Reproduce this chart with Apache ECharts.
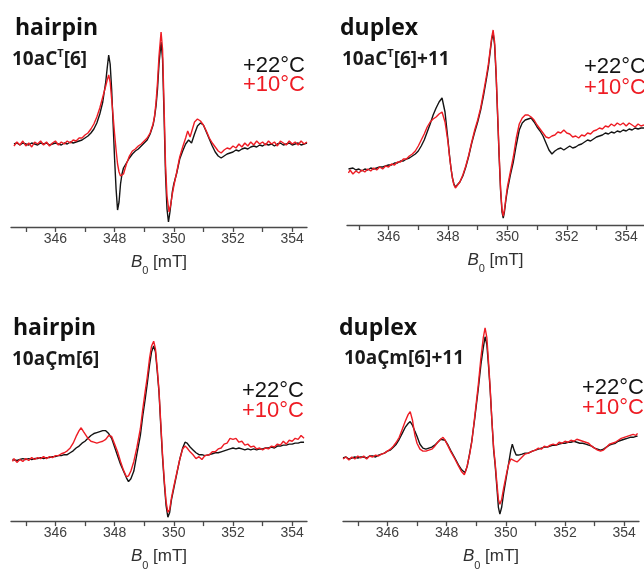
<!DOCTYPE html>
<html>
<head>
<meta charset="utf-8">
<script src="https://cdn.jsdelivr.net/npm/echarts@6/dist/echarts.min.js"></script>
<style>
  html, body { margin: 0; padding: 0; background: #fff; }
  #chart { width: 644px; height: 572px; }
</style>
</head>
<body>
<div id="chart"></div>
<script>
// EPR spectra, field B0 in mT, signal in arbitrary units (baseline = 0)

// hairpin 10aC^T[6]
const hpCT_22 = [[344.6,0],[344.7,1],[344.8,-1],[344.9,1],[345.0,0],[345.1,-1],[345.2,1],[345.3,0],[345.4,-1],[345.5,1],[345.6,0],[345.7,1],[345.8,-1],[345.9,0],[346.0,1],[346.1,0],[346.2,-1],[346.3,1],[346.4,0],[346.5,2],[346.6,1],[346.7,2],[346.8,3],[346.9,4],[347.0,6],[347.1,8],[347.2,11],[347.3,15],[347.4,21],[347.5,30],[347.6,42],[347.7,62],[347.75,76],[347.8,89],[347.85,80],[347.9,55],[347.95,20],[348.0,-15],[348.05,-45],[348.1,-66],[348.15,-58],[348.2,-40],[348.25,-30],[348.3,-24],[348.4,-19],[348.5,-14],[348.6,-10],[348.7,-7],[348.8,-5],[348.9,-2],[349.0,1],[349.1,4],[349.2,10],[349.3,19],[349.35,27],[349.4,38],[349.45,55],[349.5,80],[349.57,102],[349.62,85],[349.67,30],[349.72,-30],[349.77,-65],[349.82,-78],[349.87,-68],[349.95,-48],[350.0,-40],[350.1,-29],[350.2,-15],[350.3,-7],[350.4,0],[350.5,4],[350.55,2],[350.6,1],[350.7,10],[350.8,18],[350.9,21],[351.0,19],[351.1,12],[351.2,5],[351.3,-2],[351.4,-8],[351.5,-12],[351.6,-14],[351.7,-12],[351.8,-10],[351.9,-9],[352.0,-8],[352.1,-6],[352.2,-7],[352.3,-5],[352.4,-4],[352.5,-5],[352.6,-3],[352.7,-2],[352.8,-3],[352.9,-1],[353.0,-2],[353.1,0],[353.2,-1],[353.3,0],[353.4,-2],[353.5,0],[353.6,1],[353.7,-1],[353.8,0],[353.9,1],[354.0,-1],[354.1,0],[354.2,1],[354.3,-1],[354.4,0],[354.5,1]];
const hpCT_10 = [[344.6,-2],[344.7,2],[344.8,-1],[344.9,3],[345.0,-2],[345.1,1],[345.2,-3],[345.3,2],[345.4,0],[345.5,3],[345.6,-1],[345.7,2],[345.8,-2],[345.9,1],[346.0,3],[346.1,-1],[346.2,2],[346.3,0],[346.4,3],[346.5,1],[346.6,4],[346.7,3],[346.8,6],[346.9,6],[347.0,9],[347.1,11],[347.2,15],[347.3,20],[347.4,27],[347.5,36],[347.6,47],[347.7,58],[347.75,64],[347.8,69],[347.85,62],[347.9,45],[347.95,28],[348.0,10],[348.05,-6],[348.1,-20],[348.15,-28],[348.2,-32],[348.25,-34],[348.3,-30],[348.4,-20],[348.5,-12],[348.6,-7],[348.7,-5],[348.8,-2],[348.9,0],[349.0,3],[349.1,6],[349.2,11],[349.3,20],[349.35,28],[349.4,42],[349.45,62],[349.5,88],[349.57,112],[349.62,95],[349.67,40],[349.72,-20],[349.77,-52],[349.84,-68],[349.9,-60],[349.95,-50],[350.0,-42],[350.1,-28],[350.2,-13],[350.3,-3],[350.4,6],[350.47,13],[350.55,7],[350.6,12],[350.7,22],[350.8,25],[350.9,23],[351.0,19],[351.1,13],[351.2,6],[351.3,1],[351.4,-3],[351.5,-7],[351.6,-9],[351.7,-6],[351.8,-4],[351.9,-5],[352.0,-2],[352.1,-4],[352.2,0],[352.3,-3],[352.4,1],[352.5,-2],[352.6,2],[352.7,-1],[352.8,3],[352.9,0],[353.0,2],[353.1,-1],[353.2,3],[353.3,0],[353.4,2],[353.5,-2],[353.6,3],[353.7,1],[353.8,-1],[353.9,3],[354.0,0],[354.1,2],[354.2,-1],[354.3,3],[354.4,0],[354.5,2]];

// duplex 10aC^T[6]+11
const dxCT_22 = [[344.65,1],[344.7,0],[344.8,2],[344.9,0],[345.0,1],[345.1,-1],[345.2,1],[345.3,0],[345.4,2],[345.5,1],[345.6,2],[345.7,3],[345.8,3],[345.9,4],[346.0,5],[346.1,5],[346.2,7],[346.3,7],[346.4,9],[346.5,9],[346.6,11],[346.7,12],[346.8,14],[346.9,16],[347.0,19],[347.1,24],[347.2,30],[347.3,38],[347.4,46],[347.5,55],[347.6,62],[347.7,68],[347.8,72],[347.85,70],[347.9,58],[348.0,30],[348.05,15],[348.1,2],[348.15,-8],[348.2,-14],[348.25,-17],[348.3,-16],[348.4,-12],[348.5,-6],[348.6,3],[348.7,14],[348.8,27],[348.9,38],[349.0,48],[349.1,60],[349.2,75],[349.3,92],[349.36,103],[349.42,118],[349.47,130],[349.52,137],[349.57,125],[349.62,95],[349.67,55],[349.72,15],[349.77,-20],[349.82,-42],[349.86,-48],[349.9,-42],[349.95,-30],[350.0,-20],[350.1,-5],[350.2,8],[350.3,25],[350.4,40],[350.5,47],[350.6,50],[350.7,51],[350.8,52],[350.9,48],[351.0,43],[351.1,39],[351.2,34],[351.3,27],[351.4,20],[351.5,16],[351.6,19],[351.7,21],[351.8,22],[351.9,20],[352.0,22],[352.1,24],[352.2,22],[352.3,23],[352.4,25],[352.5,26],[352.6,28],[352.7,30],[352.8,29],[352.9,31],[353.0,33],[353.1,34],[353.2,35],[353.3,37],[353.4,36],[353.5,38],[353.6,37],[353.7,39],[353.8,38],[353.9,40],[354.0,39],[354.1,41],[354.2,40],[354.3,42],[354.4,41],[354.5,42],[354.6,42]];
const dxCT_10 = [[344.65,-3],[344.7,0],[344.8,-4],[344.9,-1],[345.0,-3],[345.1,0],[345.2,-2],[345.3,1],[345.4,-1],[345.5,2],[345.6,0],[345.7,3],[345.8,1],[345.9,4],[346.0,3],[346.1,6],[346.2,5],[346.3,8],[346.4,8],[346.5,11],[346.6,11],[346.7,14],[346.8,16],[346.9,19],[347.0,24],[347.1,30],[347.2,36],[347.3,43],[347.4,48],[347.5,51],[347.6,53],[347.7,56],[347.8,58],[347.85,56],[347.9,48],[348.0,28],[348.05,14],[348.1,2],[348.15,-8],[348.2,-15],[348.25,-18],[348.3,-17],[348.4,-12],[348.5,-5],[348.6,4],[348.7,15],[348.8,28],[348.9,40],[349.0,50],[349.1,62],[349.2,78],[349.3,95],[349.36,106],[349.42,120],[349.47,132],[349.52,140],[349.57,128],[349.62,98],[349.67,58],[349.72,18],[349.77,-18],[349.82,-40],[349.86,-46],[349.9,-40],[349.95,-28],[350.0,-17],[350.1,-2],[350.2,13],[350.3,32],[350.4,46],[350.5,52],[350.6,55],[350.7,55],[350.8,53],[350.9,50],[351.0,45],[351.1,41],[351.2,37],[351.3,33],[351.4,32],[351.5,34],[351.6,35],[351.7,38],[351.8,37],[351.9,40],[352.0,37],[352.1,36],[352.2,33],[352.3,34],[352.4,32],[352.5,35],[352.6,34],[352.7,37],[352.8,36],[352.9,39],[353.0,40],[353.1,42],[353.2,41],[353.3,44],[353.4,43],[353.5,46],[353.6,44],[353.7,47],[353.8,45],[353.9,47],[354.0,44],[354.1,47],[354.2,45],[354.3,43],[354.4,46],[354.5,44],[354.6,45]];

// hairpin 10aÇm[6]
const hpCm_22 = [[344.55,0],[344.6,1],[344.7,-1],[344.8,0],[344.9,1],[345.0,0],[345.1,1],[345.2,0],[345.3,1],[345.4,1],[345.5,2],[345.6,1],[345.7,2],[345.8,2],[345.9,3],[346.0,3],[346.1,4],[346.2,4],[346.3,5],[346.4,5],[346.5,7],[346.6,9],[346.7,12],[346.8,14],[346.9,17],[347.0,19],[347.1,22],[347.2,25],[347.3,27],[347.4,28],[347.5,29],[347.6,30],[347.7,30],[347.8,27],[347.9,22],[348.0,13],[348.1,4],[348.2,-5],[348.3,-12],[348.4,-19],[348.47,-23],[348.55,-20],[348.65,-12],[348.75,5],[348.87,25],[348.95,45],[349.03,62],[349.1,78],[349.18,98],[349.25,112],[349.32,118],[349.38,112],[349.44,92],[349.5,70],[349.56,35],[349.62,2],[349.68,-25],[349.74,-48],[349.8,-60],[349.86,-55],[349.92,-42],[350.0,-30],[350.1,-15],[350.2,0],[350.3,12],[350.38,18],[350.45,17],[350.55,13],[350.65,10],[350.75,7],[350.85,5],[350.95,5],[351.05,4],[351.2,5],[351.3,6],[351.4,7],[351.5,7],[351.6,8],[351.7,9],[351.8,10],[351.9,11],[352.0,12],[352.1,11],[352.2,12],[352.3,11],[352.4,10],[352.5,11],[352.6,10],[352.7,11],[352.8,10],[352.9,11],[353.0,11],[353.1,12],[353.2,12],[353.3,13],[353.4,12],[353.5,14],[353.6,14],[353.7,15],[353.8,15],[353.9,16],[354.0,16],[354.1,17],[354.2,17],[354.3,18],[354.4,18]];
const hpCm_10 = [[344.55,-2],[344.6,1],[344.7,-3],[344.8,0],[344.9,-2],[345.0,1],[345.1,-1],[345.2,2],[345.3,0],[345.4,2],[345.5,1],[345.6,3],[345.7,1],[345.8,3],[345.9,2],[346.0,4],[346.1,4],[346.2,6],[346.3,7],[346.4,9],[346.5,12],[346.6,17],[346.7,24],[346.8,30],[346.87,33],[346.95,29],[347.0,27],[347.1,22],[347.2,19],[347.3,18],[347.4,17],[347.5,18],[347.6,19],[347.7,21],[347.8,25],[347.9,24],[348.0,16],[348.1,8],[348.2,-2],[348.3,-11],[348.4,-18],[348.47,-17],[348.55,-12],[348.65,-2],[348.75,12],[348.87,32],[348.95,52],[349.03,70],[349.1,85],[349.18,105],[349.25,118],[349.32,123],[349.38,115],[349.44,95],[349.5,72],[349.56,38],[349.62,5],[349.68,-22],[349.74,-44],[349.8,-55],[349.86,-52],[349.92,-40],[350.0,-28],[350.1,-14],[350.2,0],[350.3,11],[350.38,14],[350.45,12],[350.55,8],[350.65,5],[350.75,1],[350.85,3],[350.95,0],[351.05,4],[351.2,5],[351.3,8],[351.4,8],[351.5,11],[351.6,12],[351.7,16],[351.8,17],[351.9,22],[352.0,21],[352.1,22],[352.2,18],[352.3,19],[352.4,15],[352.5,16],[352.6,13],[352.7,14],[352.8,11],[352.9,12],[353.0,10],[353.1,12],[353.2,11],[353.3,14],[353.4,13],[353.5,16],[353.6,15],[353.7,19],[353.8,16],[353.9,20],[354.0,19],[354.1,22],[354.2,21],[354.3,25],[354.4,22]];

// duplex 10aÇm[6]+11
const dxCm_22 = [[344.5,0],[344.6,1],[344.7,-1],[344.8,0],[344.9,1],[345.0,0],[345.1,1],[345.2,1],[345.3,0],[345.4,2],[345.5,2],[345.6,1],[345.7,3],[345.8,4],[345.9,5],[346.0,7],[346.1,8],[346.2,11],[346.3,14],[346.4,19],[346.5,25],[346.6,31],[346.7,35],[346.77,37],[346.85,33],[346.93,27],[347.0,22],[347.1,14],[347.2,10],[347.3,9],[347.4,10],[347.5,11],[347.6,13],[347.7,16],[347.8,19],[347.85,20],[347.95,18],[348.05,13],[348.15,7],[348.28,0],[348.4,-7],[348.51,-12],[348.62,-15],[348.7,-8],[348.78,5],[348.85,17],[348.95,40],[349.07,70],[349.16,95],[349.24,112],[349.3,123],[349.36,115],[349.42,92],[349.47,70],[349.53,38],[349.59,8],[349.64,-7],[349.7,-30],[349.75,-50],[349.8,-57],[349.86,-50],[349.93,-35],[350.03,-17],[350.1,-5],[350.17,8],[350.22,14],[350.28,8],[350.35,3],[350.43,3],[350.55,4],[350.65,5],[350.76,5],[350.9,7],[351.0,8],[351.1,9],[351.2,10],[351.3,11],[351.4,11],[351.5,12],[351.6,13],[351.7,13],[351.8,14],[351.9,15],[352.0,15],[352.1,16],[352.2,16],[352.3,17],[352.4,16],[352.5,15],[352.6,15],[352.7,14],[352.8,13],[352.9,12],[353.0,10],[353.1,9],[353.2,8],[353.3,9],[353.4,11],[353.5,13],[353.6,14],[353.7,15],[353.8,17],[353.9,18],[354.0,19],[354.1,20],[354.2,21],[354.3,21],[354.4,22],[354.45,22]];
const dxCm_10 = [[344.5,-1],[344.6,1],[344.7,-2],[344.8,1],[344.9,-1],[345.0,2],[345.1,0],[345.2,2],[345.3,-1],[345.4,2],[345.5,1],[345.6,3],[345.7,2],[345.8,4],[345.9,5],[346.0,7],[346.1,9],[346.2,12],[346.3,16],[346.4,21],[346.5,29],[346.6,37],[346.7,44],[346.77,47],[346.85,38],[346.93,23],[347.0,15],[347.1,9],[347.2,7],[347.3,7],[347.4,8],[347.5,9],[347.6,12],[347.7,16],[347.8,19],[347.88,21],[347.95,18],[348.05,12],[348.15,6],[348.28,-1],[348.4,-8],[348.51,-14],[348.6,-17],[348.68,-10],[348.78,4],[348.85,16],[348.95,42],[349.07,74],[349.16,102],[349.24,122],[349.3,132],[349.36,122],[349.42,96],[349.47,72],[349.53,38],[349.59,10],[349.64,-5],[349.7,-26],[349.75,-42],[349.8,-47],[349.86,-42],[349.93,-30],[350.03,-15],[350.1,-6],[350.17,-1],[350.22,1],[350.3,-3],[350.38,-4],[350.45,-2],[350.55,1],[350.65,4],[350.76,5],[350.9,7],[351.0,8],[351.1,10],[351.2,9],[351.3,12],[351.4,11],[351.5,13],[351.6,14],[351.7,13],[351.8,16],[351.9,15],[352.0,17],[352.1,16],[352.2,18],[352.3,17],[352.4,19],[352.5,18],[352.6,17],[352.7,16],[352.8,15],[352.9,12],[353.0,10],[353.1,8],[353.2,7],[353.3,8],[353.4,11],[353.5,14],[353.6,15],[353.7,16],[353.8,18],[353.9,20],[354.0,21],[354.1,22],[354.2,23],[354.3,24],[354.4,23],[354.45,25]];

// axis ticks (mT): labelled every 2 mT, tick marks every 1 mT
const fieldLabels = [346, 348, 350, 352, 354];
const fieldTicks = [345, 346, 347, 348, 349, 350, 351, 352, 353, 354];

// text
const panelTitles = ['hairpin', 'duplex', 'hairpin', 'duplex'];
const sampleNames = ['10aC{sup|T}[6]', '10aC{sup|T}[6]+11', '10aÇm[6]', '10aÇm[6]+11'];
const tempLabels = ['+22°C', '+10°C'];

// per-panel layout
const panels = [
  { grid: { left: 11,  top: 20,  width: 296, height: 207 }, x: [344.5, 354.5], y: [-83, 124],
    title: [15, 17], name: [12, 48], temp: [243, 55, 74], series: [hpCT_22, hpCT_10] },
  { grid: { left: 347, top: 20,  width: 298, height: 205 }, x: [344.6, 354.6], y: [-55, 150],
    title: [340, 17], name: [342, 48], temp: [584, 56, 77], series: [dxCT_22, dxCT_10] },
  { grid: { left: 11,  top: 320, width: 296, height: 209 }, x: [344.5, 354.5], y: [-64, 145],
    title: [13, 317], name: [12, 348], temp: [242, 380, 400], series: [hpCm_22, hpCm_10] },
  { grid: { left: 343, top: 320, width: 296, height: 204 }, x: [344.5, 354.5], y: [-64, 140],
    title: [339, 317], name: [344, 347], temp: [582, 377, 397], series: [dxCm_22, dxCm_10] }
];

const lineColors = ['#141414', '#ee1c24'];
const axisColor = '#4a4a4a';
const sansFont = '"Liberation Sans", Arial, sans-serif';
const titleFont = '"Open Sans", sans-serif';

const grids = [], xAxes = [], yAxes = [], series = [], graphics = [];

panels.forEach((p, k) => {
  grids.push(Object.assign({ containLabel: false }, p.grid));

  xAxes.push({
    gridIndex: k, type: 'value', min: p.x[0], max: p.x[1], position: 'bottom',
    axisLine: { show: true, onZero: false, lineStyle: { color: axisColor, width: 1.3 } },
    axisTick: { show: true, customValues: fieldTicks, length: 5, lineStyle: { color: axisColor, width: 1.3 } },
    axisLabel: { show: true, customValues: fieldLabels, color: '#404040', fontSize: 14, fontFamily: sansFont, margin: 5 },
    splitLine: { show: false },
    name: '{b|B}{s|0} [mT]', nameLocation: 'middle', nameGap: 15,
    nameTextStyle: {
      color: '#303030', fontSize: 17, fontFamily: sansFont, lineHeight: 30,
      rich: {
        b: { fontStyle: 'italic', fontSize: 17, fontFamily: sansFont, color: '#303030', lineHeight: 30 },
        s: { fontSize: 11, fontFamily: sansFont, color: '#303030', verticalAlign: 'bottom' }
      }
    }
  });
  yAxes.push({ gridIndex: k, type: 'value', min: p.y[0], max: p.y[1], show: false });

  p.series.forEach((data, j) => {
    series.push({
      type: 'line', name: tempLabels[j], xAxisIndex: k, yAxisIndex: k, data: data,
      showSymbol: false, symbol: 'none', clip: false, z: 2 + j,
      lineStyle: { color: lineColors[j], width: 1.4 }
    });
  });

  graphics.push({
    type: 'text', x: p.title[0], y: p.title[1],
    style: { text: panelTitles[k], font: 'bold 23px ' + titleFont, fill: '#111',
             align: 'left', verticalAlign: 'top', textAlign: 'left', textVerticalAlign: 'top' }
  });
  graphics.push({
    type: 'text', x: p.name[0], y: p.name[1],
    style: { text: sampleNames[k], font: 'bold 19px ' + titleFont, fill: '#1a1a1a', lineHeight: 23,
             align: 'left', verticalAlign: 'top', textAlign: 'left', textVerticalAlign: 'top',
             rich: { sup: { fontSize: 11, fontWeight: 'bold', fontFamily: titleFont, fill: '#1a1a1a', verticalAlign: 'top' } } }
  });
  tempLabels.forEach((t, j) => {
    graphics.push({
      type: 'text', x: p.temp[0], y: p.temp[1 + j],
      style: { text: t, font: '22px ' + sansFont, fill: lineColors[j],
               align: 'left', verticalAlign: 'top', textAlign: 'left', textVerticalAlign: 'top' }
    });
  });
});

const chart = echarts.init(document.getElementById('chart'), null, { renderer: 'canvas' });
chart.setOption({
  animation: false,
  backgroundColor: '#ffffff',
  grid: grids,
  xAxis: xAxes,
  yAxis: yAxes,
  series: series,
  graphic: graphics
});
</script>
</body>
</html>
